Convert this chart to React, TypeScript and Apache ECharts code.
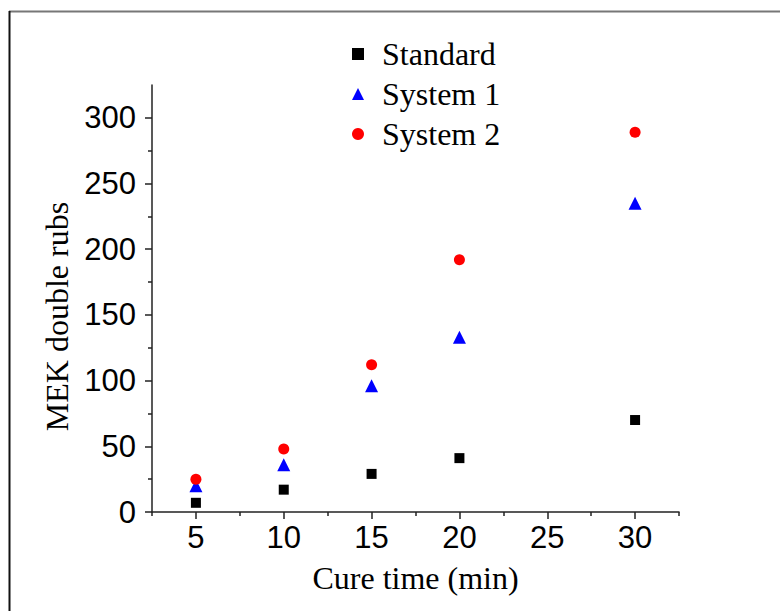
import React, { useEffect, useRef } from "react";
import * as echarts from "echarts";

const cureTimes = [5, 10, 15, 20, 30];
const standardRubs = [7, 17, 29, 41, 70];
const system1Rubs = [20, 36, 96, 133, 235];
const system2Rubs = [25, 48, 112, 192, 289];
const seriesNames = ["Standard", "System 1", "System 2"];
const xMajorTicks = [5, 10, 15, 20, 25, 30];
const xMinorTicks = [2.5, 7.5, 12.5, 17.5, 22.5, 27.5, 32.5];
const yMajorTicks = [0, 50, 100, 150, 200, 250, 300];
const yMinorTicks = [25, 75, 125, 175, 225, 275];

const pair = (ys: number[]) => cureTimes.map((x, i) => [x, ys[i]]);

export default function App() {
  const ref = useRef<HTMLDivElement>(null);
  useEffect(() => {
    if (!ref.current) return;
    const chart = echarts.init(ref.current, null, { renderer: "svg" });
    const serif = "Liberation Serif";
    const sans = "Liberation Sans";
    const axisColor = "#222";
    chart.setOption({
      animation: false,
      backgroundColor: "#ffffff",
      grid: { left: 152, right: 101, top: 85, bottom: 99 },
      legend: {
        orient: "vertical",
        left: 347,
        top: 33,
        itemWidth: 12,
        itemHeight: 12,
        itemGap: 8,
        symbolKeepAspect: true,
        textStyle: {
          fontFamily: serif,
          fontSize: 32,
          color: "#000",
          lineHeight: 31,
          padding: [0, 0, 0, 13],
        },
        data: seriesNames,
      },
      xAxis: [
        {
          type: "value",
          min: 2.5,
          max: 32.5,
          interval: 2.5,
          name: "Cure time (min)",
          nameLocation: "middle",
          nameGap: 50,
          nameTextStyle: { fontFamily: serif, fontSize: 32, color: "#000" },
          splitLine: { show: false },
          axisLine: { lineStyle: { color: axisColor, width: 1.5 } },
          axisTick: { length: 7, customValues: xMajorTicks, lineStyle: { color: axisColor, width: 1.5 } },
          axisLabel: {
            margin: 10,
            fontFamily: sans,
            fontSize: 31,
            color: "#000",
            customValues: xMajorTicks,
          },
        },
        {
          type: "value",
          min: 2.5,
          max: 32.5,
          interval: 2.5,
          position: "bottom",
          splitLine: { show: false },
          axisLine: { show: false },
          axisTick: { show: true, length: 4, customValues: xMinorTicks, lineStyle: { color: axisColor, width: 1.5 } },
          axisLabel: { show: false },
        },
      ],
      yAxis: [
        {
          type: "value",
          min: 0,
          max: 325,
          interval: 25,
          name: "MEK double rubs",
          nameLocation: "middle",
          nameGap: 76,
          nameTextStyle: { fontFamily: serif, fontSize: 32, color: "#000", padding: [0, 36, 0, 0] },
          splitLine: { show: false },
          axisLine: { show: true, lineStyle: { color: axisColor, width: 1.5 } },
          axisTick: { show: true, length: 7, customValues: yMajorTicks, lineStyle: { color: axisColor, width: 1.5 } },
          axisLabel: {
            margin: 16,
            fontFamily: sans,
            fontSize: 31,
            color: "#000",
            customValues: yMajorTicks,
          },
        },
        {
          type: "value",
          min: 0,
          max: 325,
          interval: 25,
          position: "left",
          splitLine: { show: false },
          axisLine: { show: false },
          axisTick: { show: true, length: 4, customValues: yMinorTicks, lineStyle: { color: axisColor, width: 1.5 } },
          axisLabel: { show: false },
        },
      ],
      series: [
        {
          name: seriesNames[0],
          type: "scatter",
          symbol: "rect",
          symbolSize: 10,
          symbolKeepAspect: true,
          itemStyle: { color: "#000000", opacity: 1 },
          data: pair(standardRubs),
        },
        {
          name: seriesNames[1],
          type: "scatter",
          symbol: "triangle",
          symbolSize: 13,
          symbolKeepAspect: true,
          itemStyle: { color: "#0000ff", opacity: 1 },
          data: pair(system1Rubs),
        },
        {
          name: seriesNames[2],
          type: "scatter",
          symbol: "circle",
          symbolSize: 11,
          symbolKeepAspect: true,
          itemStyle: { color: "#ff0000", opacity: 1 },
          data: pair(system2Rubs),
        },
      ],
      graphic: [
        {
          type: "line",
          shape: { x1: 9, y1: 11.5, x2: 780, y2: 11.5 },
          style: { stroke: "#777777", lineWidth: 2 },
        },
        {
          type: "line",
          shape: { x1: 9.5, y1: 11, x2: 9.5, y2: 611 },
          style: { stroke: "#111111", lineWidth: 2 },
        },
      ],
    });
    return () => chart.dispose();
  }, []);
  return <div ref={ref} style={{ width: 780, height: 611, position: "absolute", left: 0, top: 0 }} />;
}
